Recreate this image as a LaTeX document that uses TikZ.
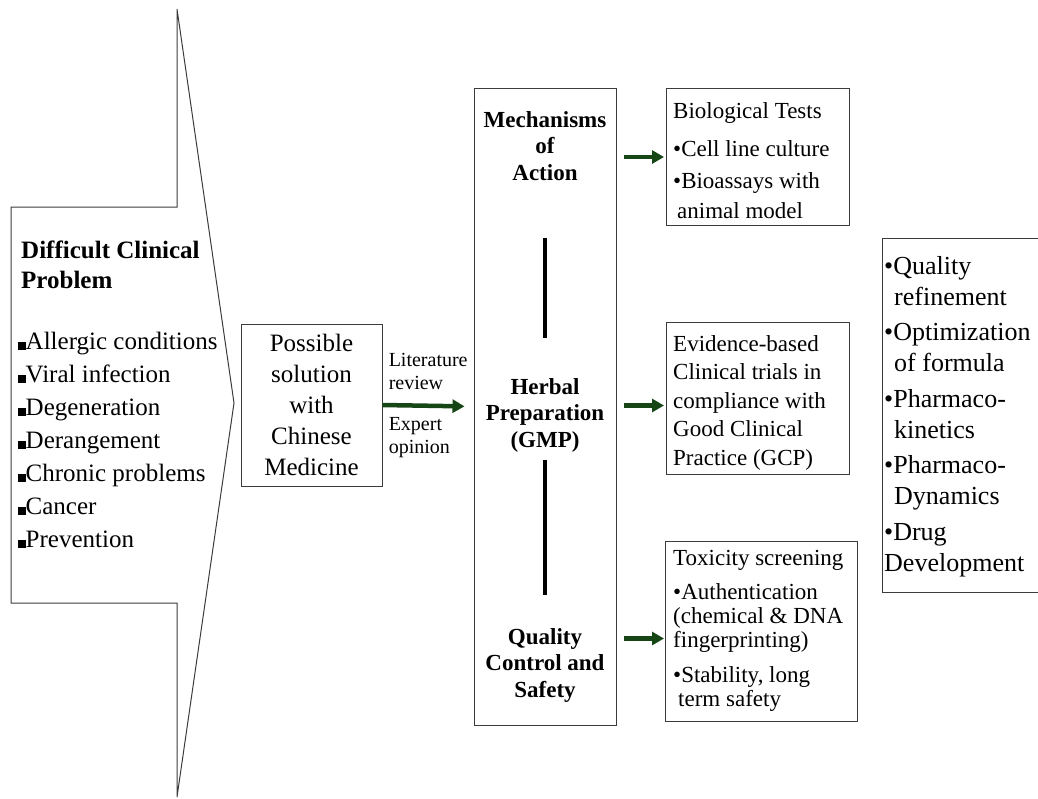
\documentclass[tikz,border=0pt]{standalone}
\usepackage{fontspec}
\setmainfont{Liberation Serif}
\usetikzlibrary{arrows.meta}
\definecolor{arrowgreen}{RGB}{22,70,22}
\definecolor{edgegray}{RGB}{60,60,60}
\newcommand{\sqbul}{\rule{7.5pt}{7.5pt}}
\begin{document}
\begin{tikzpicture}[x=1pt,y=-1pt,
  outline/.style={draw=edgegray,line width=1pt},
  box/.style={outline,inner sep=0pt},
  txt/.style={inner sep=0pt,align=left,anchor=north west},
  midtxt/.style={inner sep=0pt,align=center,font=\fontsize{23}{26.5}\selectfont\bfseries},
  lbl/.style={inner sep=0pt,align=left,font=\fontsize{20}{23}\selectfont},
  garrow/.style={draw=arrowgreen,line width=4.5pt,-{Triangle[length=12pt,width=13pt]}},
  sepline/.style={line width=4pt}]
\useasboundingbox (0,0) rectangle (1038,798);
\draw[outline] (11,207) -- (177,207) -- (177,9) -- (234,403) -- (177,797) -- (177,603) -- (11,603) -- cycle;
\node[txt,font=\fontsize{25}{30}\selectfont\bfseries] (probtitle) at (21,241) {Difficult Clinical\\Problem};
\node[txt,font=\fontsize{25}{33}\selectfont] (problist) at (18,332) {\sqbul Allergic conditions\\\sqbul Viral infection\\\sqbul Degeneration\\\sqbul Derangement\\\sqbul Chronic problems\\\sqbul Cancer\\\sqbul Prevention};
\node[box,minimum width=141pt,minimum height=162pt,align=center,font=\fontsize{25}{31}\selectfont] (sol) at (311.5,405) {Possible\\solution\\with\\Chinese\\Medicine};
\node[box,minimum width=142pt,minimum height=637pt] (mid) at (545,406.5) {};
\node[midtxt] (mech) at (545,146) {Mechanisms\\of\\Action};
\node[midtxt] (herb) at (545,415) {Herbal\\Preparation\\(GMP)};
\node[midtxt] (qcs) at (545,665) {Quality\\Control and\\Safety};
\draw[sepline] (545,238) -- (545,338);
\draw[sepline] (545,460) -- (545,595);
\draw[garrow,shorten >=9pt] (sol.east) -- (mid.west)
  node[pos=0,anchor=south west,xshift=4pt,yshift=13pt,lbl] {Literature\\review}
  node[pos=0,anchor=north west,xshift=4pt,yshift=-10pt,lbl] {Expert\\opinion};
\node[box,minimum width=183pt,minimum height=137pt,anchor=north west] (bio) at (666,88) {};
\node[txt,font=\fontsize{23}{30}\selectfont] at (673,102) {Biological Tests\\[8pt]\textbullet Cell line culture\\[2pt]\textbullet Bioassays with\\\hspace{4pt}animal model};
\node[box,minimum width=183pt,minimum height=152pt,anchor=north west] (evid) at (666,322) {};
\node[txt,font=\fontsize{23}{28.5}\selectfont] at (673,335) {Evidence-based\\Clinical trials in\\compliance with\\Good Clinical\\Practice (GCP)};
\node[box,minimum width=192pt,minimum height=180pt,anchor=north west] (tox) at (665,541) {};
\node[txt,font=\fontsize{23}{24}\selectfont] at (673,550) {Toxicity screening\\[10pt]\textbullet Authentication\\(chemical \& DNA\\fingerprinting)\\[11pt]\textbullet Stability, long\\\hspace{5pt}term safety};
\node[box,minimum width=175pt,minimum height=354pt,anchor=north west] (future) at (882,238) {};
\node[txt,font=\fontsize{26}{31}\selectfont] at (884,256) {\textbullet Quality\\\hspace{10pt}refinement\\[4pt]\textbullet Optimization\\\hspace{10pt}of formula\\[5pt]\textbullet Pharmaco-\\\hspace{10pt}kinetics\\[4pt]\textbullet Pharmaco-\\\hspace{10pt}Dynamics\\[5pt]\textbullet Drug\\Development};
\draw[garrow,shorten <=7pt,shorten >=2pt] (mid.east |- bio.west) -- (bio.west);
\draw[garrow,shorten <=7pt,shorten >=2pt,transform canvas={yshift=-7pt}] (mid.east |- evid.west) -- (evid.west);
\draw[garrow,shorten <=7pt,shorten >=1pt,transform canvas={yshift=-7pt}] (mid.east |- tox.west) -- (tox.west);
\end{tikzpicture}
\end{document}
